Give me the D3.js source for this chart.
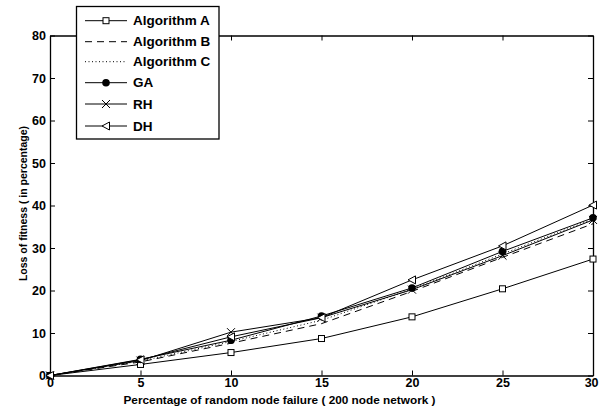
<!DOCTYPE html>
<html>
<head>
<meta charset="utf-8">
<script src="https://cdn.jsdelivr.net/npm/d3@7"></script>
<style>
  html, body { margin: 0; padding: 0; background: #fff; }
  svg { display: block; }
  text { font-family: "Liberation Sans", Arial, Helvetica, sans-serif; font-weight: bold; fill: #000; }
</style>
</head>
<body>
<svg id="chart" width="599" height="412"></svg>
<script>
// Failure percentages on the x axis
const failurePct = [0, 5, 10, 15, 20, 25, 30];

// Loss of fitness (%) for each method
const algorithmA = [0, 2.6, 5.4, 8.7, 13.8, 20.4, 27.4];
const algorithmB = [0, 3.2, 7.6, 12.2, 19.8, 27.8, 35.7];
const algorithmC = [0, 3.4, 8.0, 13.0, 20.3, 28.6, 36.8];
const gaValues   = [0, 3.8, 8.3, 14.0, 20.6, 29.2, 37.1];
const rhValues   = [0, 3.5, 10.2, 13.6, 20.2, 28.2, 36.6];
const dhValues   = [0, 3.7, 9.1, 13.6, 22.5, 30.5, 40.1];

const seriesNames = ["Algorithm A", "Algorithm B", "Algorithm C", "GA", "RH", "DH"];
const xTicks = [0, 5, 10, 15, 20, 25, 30];
const yTicks = [0, 10, 20, 30, 40, 50, 60, 70, 80];

const series = [
  { name: seriesNames[0], values: algorithmA, dash: null,  marker: "square" },
  { name: seriesNames[1], values: algorithmB, dash: "7,5", marker: null },
  { name: seriesNames[2], values: algorithmC, dash: "1,2.5", marker: null },
  { name: seriesNames[3], values: gaValues,   dash: null,  marker: "dot" },
  { name: seriesNames[4], values: rhValues,   dash: null,  marker: "cross" },
  { name: seriesNames[5], values: dhValues,   dash: null,  marker: "triangle" }
];

const svg = d3.select("#chart");
const plot = { left: 50, right: 593, top: 35.5, bottom: 375.5 };

const x = d3.scaleLinear().domain([0, 30]).range([plot.left, plot.right]);
const y = d3.scaleLinear().domain([0, 80]).range([plot.bottom, plot.top]);

// Axes with inward ticks on all four sides
const tickLen = 5;
const axisBottom = svg.append("g").attr("transform", `translate(0,${plot.bottom})`)
  .call(d3.axisBottom(x).tickValues(xTicks).tickSizeInner(-tickLen).tickSizeOuter(0).tickPadding(3));
const axisLeft = svg.append("g").attr("transform", `translate(${plot.left},0)`)
  .call(d3.axisLeft(y).tickValues(yTicks).tickSizeInner(-tickLen).tickSizeOuter(0).tickPadding(4));
const axisTop = svg.append("g").attr("transform", `translate(0,${plot.top})`)
  .call(d3.axisTop(x).tickValues(xTicks).tickSizeInner(-tickLen).tickSizeOuter(0).tickFormat(""));
const axisRight = svg.append("g").attr("transform", `translate(${plot.right},0)`)
  .call(d3.axisRight(y).tickValues(yTicks).tickSizeInner(-tickLen).tickSizeOuter(0).tickFormat(""));

[axisBottom, axisLeft, axisTop, axisRight].forEach(g => {
  g.select(".domain").attr("stroke", "#000").attr("stroke-width", 1.3);
  g.selectAll(".tick line").attr("stroke", "#000").attr("stroke-width", 1);
  g.selectAll(".tick text").attr("font-size", 12.5).attr("font-family", null).style("font-weight", "bold").attr("fill", "#000");
});
// keep the last x label inside the canvas
axisBottom.selectAll(".tick text").filter(d => d === 30).attr("dx", "-0.15em");

// Axis titles
svg.append("text")
  .attr("x", (plot.left + plot.right) / 2 - 42)
  .attr("y", 404)
  .attr("text-anchor", "middle")
  .attr("font-size", 11.8)
  .text("Percentage of random node failure ( 200 node network )");

svg.append("text")
  .attr("transform", `translate(27,${(120 + 287) / 2}) rotate(-90)`)
  .attr("text-anchor", "middle")
  .attr("font-size", 10.5)
  .text("Loss of fitness ( in percentage)");

// Marker drawing
function drawMarker(g, type, cx, cy) {
  if (type === "square") {
    g.append("rect").attr("x", cx - 3).attr("y", cy - 3).attr("width", 6).attr("height", 6)
      .attr("fill", "#fff").attr("stroke", "#000").attr("stroke-width", 1);
  } else if (type === "dot") {
    g.append("circle").attr("cx", cx).attr("cy", cy).attr("r", 3.8).attr("fill", "#000");
  } else if (type === "cross") {
    g.append("path").attr("d", `M${cx - 4},${cy - 4}L${cx + 4},${cy + 4}M${cx - 4},${cy + 4}L${cx + 4},${cy - 4}`)
      .attr("stroke", "#000").attr("stroke-width", 1).attr("fill", "none");
  } else if (type === "triangle") {
    g.append("path").attr("d", `M${cx - 4},${cy}L${cx + 3.5},${cy - 4}L${cx + 3.5},${cy + 4}Z`)
      .attr("stroke", "#000").attr("stroke-width", 1).attr("fill", "#fff");
  }
}

const line = d3.line().x((d, i) => x(failurePct[i])).y(d => y(d));

const linesG = svg.append("g");
series.forEach(s => {
  linesG.append("path")
    .datum(s.values)
    .attr("d", line)
    .attr("fill", "none")
    .attr("stroke", "#000")
    .attr("stroke-width", 1)
    .attr("stroke-dasharray", s.dash);
});
series.forEach(s => {
  if (!s.marker) return;
  const mg = svg.append("g");
  s.values.forEach((v, i) => drawMarker(mg, s.marker, x(failurePct[i]), y(v)));
});

// Legend
const legend = svg.append("g");
legend.append("rect").attr("x", 76.5).attr("y", 6.5).attr("width", 142.5).attr("height", 132.5)
  .attr("fill", "#fff").attr("stroke", "#000").attr("stroke-width", 1.3);
const rowY = [20.7, 41.7, 61.7, 82.7, 104, 126];
series.forEach((s, i) => {
  const ly = rowY[i];
  legend.append("line").attr("x1", 85).attr("x2", 127).attr("y1", ly).attr("y2", ly)
    .attr("stroke", "#000").attr("stroke-width", 1).attr("stroke-dasharray", s.dash);
  if (s.marker) drawMarker(legend, s.marker, 106, ly);
  legend.append("text").attr("x", 133).attr("y", ly).attr("dy", "0.35em")
    .attr("font-size", 13.5).text(s.name);
});
</script>
</body>
</html>
